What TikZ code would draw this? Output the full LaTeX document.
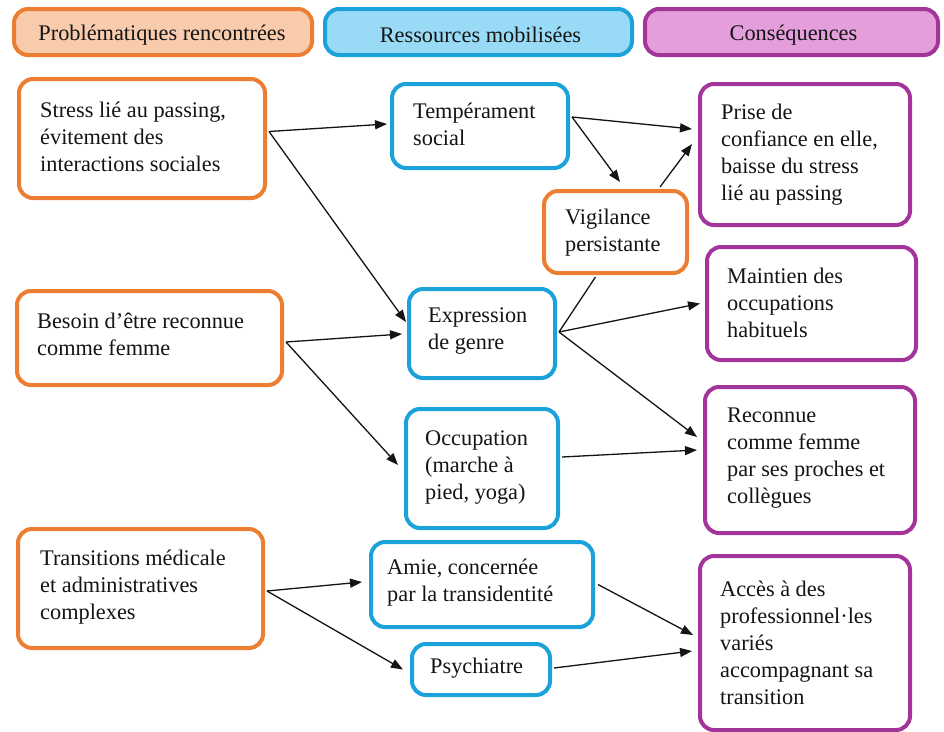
\documentclass[tikz,border=0pt]{standalone}
\usepackage{fontspec}
\setmainfont{Liberation Serif}
\usetikzlibrary{arrows.meta,calc}

\definecolor{orangeC}{HTML}{ED7D31}
\definecolor{peachC}{HTML}{F8CBAD}
\definecolor{blueC}{HTML}{1CA2DA}
\definecolor{skyC}{HTML}{99DBF7}
\definecolor{purpleC}{HTML}{A2349A}
\definecolor{pinkC}{HTML}{E49EDB}
\definecolor{inkC}{HTML}{141414}

\begin{document}
\begin{tikzpicture}[x=1pt,y=-1pt,
  box/.style={draw, rounded corners=14pt, line width=4pt, fill=white,
    inner sep=0pt, anchor=north west},
  obox/.style={box, draw=orangeC},
  bbox/.style={box, draw=blueC},
  pbox/.style={box, draw=purpleC},
  txt/.style={anchor=west, align=left, inner sep=0pt, text=inkC,
    font=\fontsize{22.3}{27}\selectfont},
  headtxt/.style={txt, anchor=center},
  link/.style={draw=inkC, line width=1.3pt, -{Triangle[length=12pt,width=9pt]}},
  plainlink/.style={draw=inkC, line width=1.3pt},
]
\fill[white] (0,0) rectangle (944,731);
\useasboundingbox (0,0) rectangle (944,731);

% column headers
\node[box, draw=orangeC, fill=peachC, minimum width=298, minimum height=46] (h1) at (12,7) {};
\node[headtxt] (h1t) at ($(h1.center)+(-1,3)$) {Problématiques rencontrées};
\node[box, draw=blueC, fill=skyC, minimum width=307, minimum height=46] (h2) at (323,7) {};
\node[headtxt] (h2t) at ($(h2.center)+(2,3)$) {Ressources mobilisées};
\node[box, draw=purpleC, fill=pinkC, minimum width=293, minimum height=46] (h3) at (643,7) {};
\node[headtxt] (h3t) at ($(h3.center)+(2,3)$) {Conséquences};

% problems
\node[obox, minimum width=246, minimum height=119] (a1) at (17,77) {};
\node[txt] (a1t) at ($(a1.west)+(23,-2)$) {Stress lié au passing,\\évitement des\\interactions sociales};
\node[obox, minimum width=265, minimum height=94] (a2) at (15,289) {};
\node[txt] (a2t) at ($(a2.west)+(22,-4)$) {Besoin d’être reconnue\\comme femme};
\node[obox, minimum width=245, minimum height=119] (a3) at (16,527) {};
\node[txt] (a3t) at ($(a3.west)+(24,-1)$) {Transitions médicale\\et administratives\\complexes};

% resources
\node[bbox, minimum width=176, minimum height=84] (b1) at (390,82) {};
\node[txt] (b1t) at ($(b1.west)+(23,-2)$) {Tempérament\\social};
\node[obox, minimum width=143, minimum height=82] (v) at (542,189) {};
\node[txt] (vt) at ($(v.west)+(23,1)$) {Vigilance\\persistante};
\node[bbox, minimum width=146, minimum height=89] (b2) at (407,287) {};
\node[txt] (b2t) at ($(b2.west)+(21,-2)$) {Expression\\de genre};
\node[bbox, minimum width=152, minimum height=119] (b3) at (404,407) {};
\node[txt] (b3t) at ($(b3.west)+(21,-1)$) {Occupation\\(marche à\\pied, yoga)};
\node[bbox, minimum width=222, minimum height=85] (b4) at (369,540) {};
\node[txt] (b4t) at ($(b4.west)+(18,-2)$) {Amie, concernée\\par la transidentité};
\node[bbox, minimum width=138, minimum height=51] (b5) at (410,642) {};
\node[txt] (b5t) at ($(b5.west)+(20,-1)$) {Psychiatre};

% consequences
\node[pbox, minimum width=210, minimum height=141] (c1) at (698,82) {};
\node[txt] (c1t) at ($(c1.west)+(23,0)$) {Prise de\\confiance en elle,\\baisse du stress\\lié au passing};
\node[pbox, minimum width=209, minimum height=113] (c2) at (705,245) {};
\node[txt] (c2t) at ($(c2.west)+(22,-1)$) {Maintien des\\occupations\\habituels};
\node[pbox, minimum width=210, minimum height=146] (c3) at (703,385) {};
\node[txt] (c3t) at ($(c3.west)+(24,-2)$) {Reconnue\\comme femme\\par ses proches et\\collègues};
\node[pbox, minimum width=210, minimum height=174] (c4) at (698,554) {};
\node[txt] (c4t) at ($(c4.west)+(22,0)$) {Accès à des\\professionnel·les\\variés\\accompagnant sa\\transition};

% connectors
\draw[link] ($(a1.east)+(2,-7)$) -- ($(b1.west)+(-3,-2)$);
\draw[link] ($(a1.east)+(2,-7)$) -- ($(b2.west)+(-1,-11.5)$);
\draw[link] ($(a2.east)+(2,4)$) -- ($(b2.west)+(-5,0.5)$);
\draw[link] ($(a2.east)+(2,4)$) -- ($(b3.west)+(-6,-3.5)$);
\draw[link] ($(b1.east)+(2,-9)$) -- ($(c1.west)+(-6,-25.5)$);
\draw[link] ($(b1.east)+(2,-9)$) -- ($(v.north)+(4.5,-7)$);
\draw[link] ($(v.north)+(44.5,-2)$) -- ($(c1.west)+(-6,-10.5)$);
\draw[plainlink] ($(b2.east)+(2,-1.5)$) -- ($(v.south)+(-20,2)$);
\draw[link] ($(b2.east)+(2,-1.5)$) -- ($(c2.west)+(-5,0)$);
\draw[link] ($(b2.east)+(2,-1.5)$) -- ($(c3.west)+(-6,-23)$);
\draw[link] ($(b3.east)+(2,-11.5)$) -- ($(c3.west)+(-6,-10)$);
\draw[link] ($(a3.east)+(2,2.5)$) -- ($(b4.west)+(-7,-2.5)$);
\draw[link] ($(a3.east)+(2,2.5)$) -- ($(b5.west)+(-7,0)$);
\draw[link] ($(b4.east)+(3,0)$) -- ($(c4.west)+(-5,-8)$);
\draw[link] ($(b5.east)+(2,-1.5)$) -- ($(c4.west)+(-6,8)$);
\end{tikzpicture}
\end{document}
